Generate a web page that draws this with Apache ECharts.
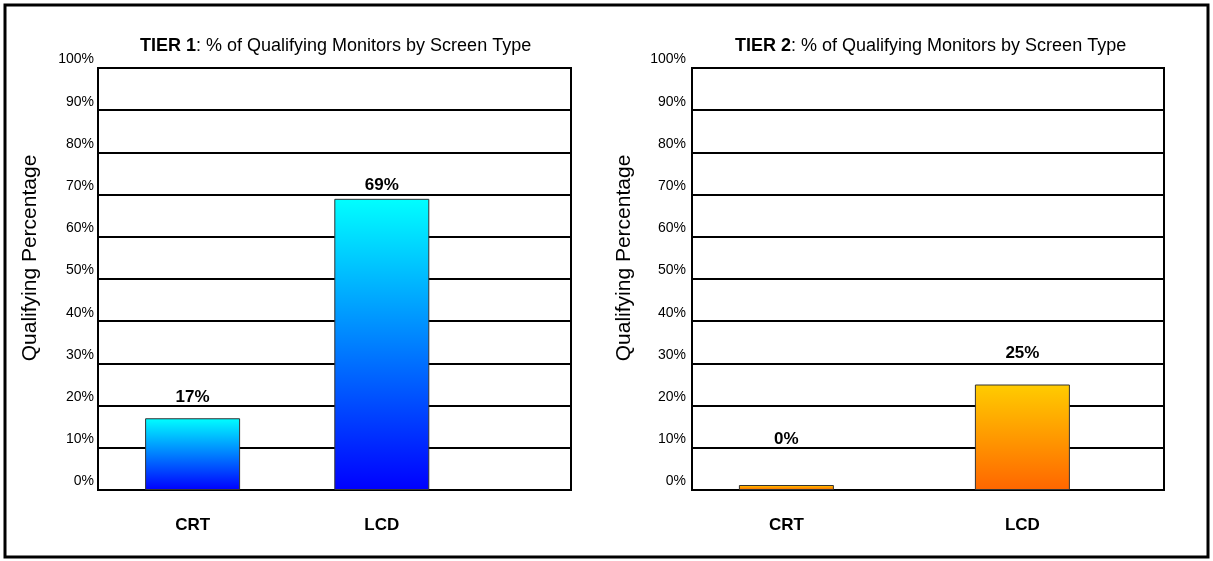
<!DOCTYPE html>
<html>
<head>
<meta charset="utf-8">
<script src="https://cdn.jsdelivr.net/npm/echarts@6/dist/echarts.min.js"></script>
<style>
  html, body { margin: 0; padding: 0; background: #fff; }
  #chart { width: 1213px; height: 561px; }
</style>
</head>
<body>
<div id="chart"></div>
<script>
// data
const screenTypes = ['CRT', 'LCD']
const tier1Values = [17, 69]
const tier2Values = [0, 25]
// where each screen type sits on the 0..2.5 x scale of its panel
const tier1Slots = [0.5, 1.5]
const tier2Slots = [0.5, 1.75]
const yTicks = [0, 10, 20, 30, 40, 50, 60, 70, 80, 90, 100]

const font = 'Arial, "Liberation Sans", sans-serif'

const myChart = echarts.init(document.getElementById('chart'))

function barGradient(top, bottom) {
  return new echarts.graphic.LinearGradient(0, 0, 0, 1, [
    { offset: 0, color: top },
    { offset: 1, color: bottom }
  ])
}

function makeXAxis(gridIndex, slots) {
  return {
    type: 'value',
    gridIndex: gridIndex,
    min: 0,
    max: 2.5,
    interval: 0.25,
    splitLine: { show: false },
    axisLine: { show: true, onZero: false, lineStyle: { color: '#000', width: 2 } },
    axisTick: { show: false },
    axisLabel: {
      customValues: slots,
      margin: 27,
      fontFamily: font,
      fontSize: 17,
      fontWeight: 'bold',
      color: '#000',
      formatter: (value) => {
        let i = slots.indexOf(value)
        return i >= 0 ? screenTypes[i] : ''
      }
    }
  }
}

function makeYAxis(gridIndex, margin) {
  return {
    type: 'value',
    gridIndex: gridIndex,
    min: yTicks[0],
    max: yTicks[yTicks.length - 1],
    interval: 10,
    name: 'Qualifying Percentage',
    nameLocation: 'middle',
    nameGap: 57,
    // the title sits a little above the middle of the plot
    nameTextStyle: { fontFamily: font, fontSize: 21, color: '#000', padding: [0, 0, 0, 42] },
    axisLine: { show: true, lineStyle: { color: '#000', width: 2 } },
    axisTick: { show: false },
    splitLine: { show: true, lineStyle: { color: '#000', width: 2 } },
    axisLabel: {
      margin: margin,
      fontFamily: font,
      fontSize: 14,
      color: '#000',
      verticalAlign: 'bottom',
      lineHeight: 17,
      formatter: '{value}%'
    }
  }
}

function makeBars(index, values, slots, top, bottom, gaps) {
  let data = values.map((v, i) => ({
    value: [slots[i], v],
    label: { distance: gaps[i] }
  }))
  return {
    type: 'bar',
    xAxisIndex: index,
    yAxisIndex: index,
    barWidth: 95,
    barMinHeight: 5,
    data: data,
    itemStyle: {
      color: barGradient(top, bottom),
      borderColor: '#333',
      borderWidth: 1
    },
    label: {
      show: true,
      position: 'top',
      fontFamily: font,
      fontSize: 17,
      fontWeight: 'bold',
      color: '#000',
      formatter: (p) => p.value[1] + '%'
    }
  }
}

function makeTitle(tier, left) {
  return {
    text: '{b|TIER ' + tier + '}: % of Qualifying Monitors by Screen Type',
    left: left,
    top: 32,
    textStyle: {
      fontFamily: font,
      fontSize: 18,
      fontWeight: 'normal',
      color: '#000',
      rich: {
        b: { fontFamily: font, fontSize: 18, fontWeight: 'bold', color: '#000' }
      }
    }
  }
}

const option = {
  backgroundColor: '#fff',
  animation: false,
  title: [makeTitle(1, 135), makeTitle(2, 730)],
  grid: [
    { left: 98, top: 68, width: 473, height: 422, show: true, borderColor: '#000', borderWidth: 2 },
    { left: 692, top: 68, width: 472, height: 422, show: true, borderColor: '#000', borderWidth: 2 }
  ],
  xAxis: [makeXAxis(0, tier1Slots), makeXAxis(1, tier2Slots)],
  yAxis: [makeYAxis(0, 4), makeYAxis(1, 6)],
  series: [
    makeBars(0, tier1Values, tier1Slots, '#00ffff', '#0000ff', [12, 5]),
    makeBars(1, tier2Values, tier2Slots, '#ffcc00', '#ff6600', [37, 23])
  ],
  graphic: [{
    type: 'rect',
    shape: { x: 5, y: 5, width: 1203, height: 552 },
    style: { fill: null, stroke: '#000', lineWidth: 3 },
    z: 100
  }]
}

myChart.setOption(option)
</script>
</body>
</html>
